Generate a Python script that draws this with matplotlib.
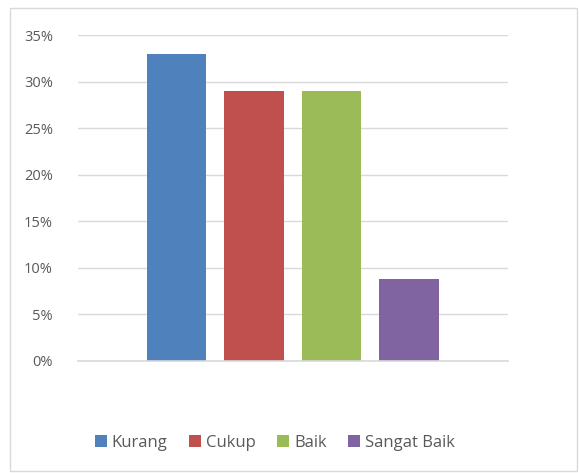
import matplotlib
matplotlib.use('Agg')
import matplotlib.pyplot as plt
from matplotlib.patches import Rectangle
from matplotlib.ticker import FuncFormatter

categories = ['Kurang', 'Cukup', 'Baik', 'Sangat Baik']
values = [0.33, 0.29, 0.29, 0.088]
colors = ['#4f81bd', '#c0504d', '#9bbb59', '#8064a2']
yticks = [0, 0.05, 0.10, 0.15, 0.20, 0.25, 0.30, 0.35]

plt.rcParams['font.family'] = ['Open Sans', 'DejaVu Sans']
text_color = '#595959'

fig = plt.figure(figsize=(5.79, 4.73), dpi=100)
ax = fig.add_axes([78 / 579, 1 - 361 / 473, 430 / 579, 326 / 473])

for i, (cat, val, col) in enumerate(zip(categories, values, colors)):
    ax.bar(i, val, width=0.77, color=col, label=cat, zorder=3)

ax.set_xlim(-1.27, 4.28)
ax.set_ylim(0, 0.35)
ax.set_yticks(yticks)
ax.yaxis.set_major_formatter(FuncFormatter(lambda v, p: f'{v * 100:.0f}%'))
ax.set_xticks([])
ax.grid(axis='y', color='#d9d9d9', linewidth=1, zorder=0)
ax.axhline(0, color='#d9d9d9', linewidth=1.2, zorder=4, clip_on=False)
ax.tick_params(axis='y', length=0, pad=18, labelsize=10.5, labelcolor=text_color)
for s in ax.spines.values():
    s.set_visible(False)

leg = fig.legend(loc='center', bbox_to_anchor=(0.475, 1 - 443 / 473), ncol=4,
                 frameon=False, fontsize=12, handlelength=0.7, handleheight=0.7,
                 handletextpad=0.3, columnspacing=1.3)
for t in leg.get_texts():
    t.set_color(text_color)

fig.patches.append(Rectangle((10 / 579, 2 / 473), 567 / 579, 463 / 473,
                             transform=fig.transFigure, fill=False,
                             edgecolor='#d9d9d9', linewidth=1))

fig.savefig('out.png', dpi=100)
